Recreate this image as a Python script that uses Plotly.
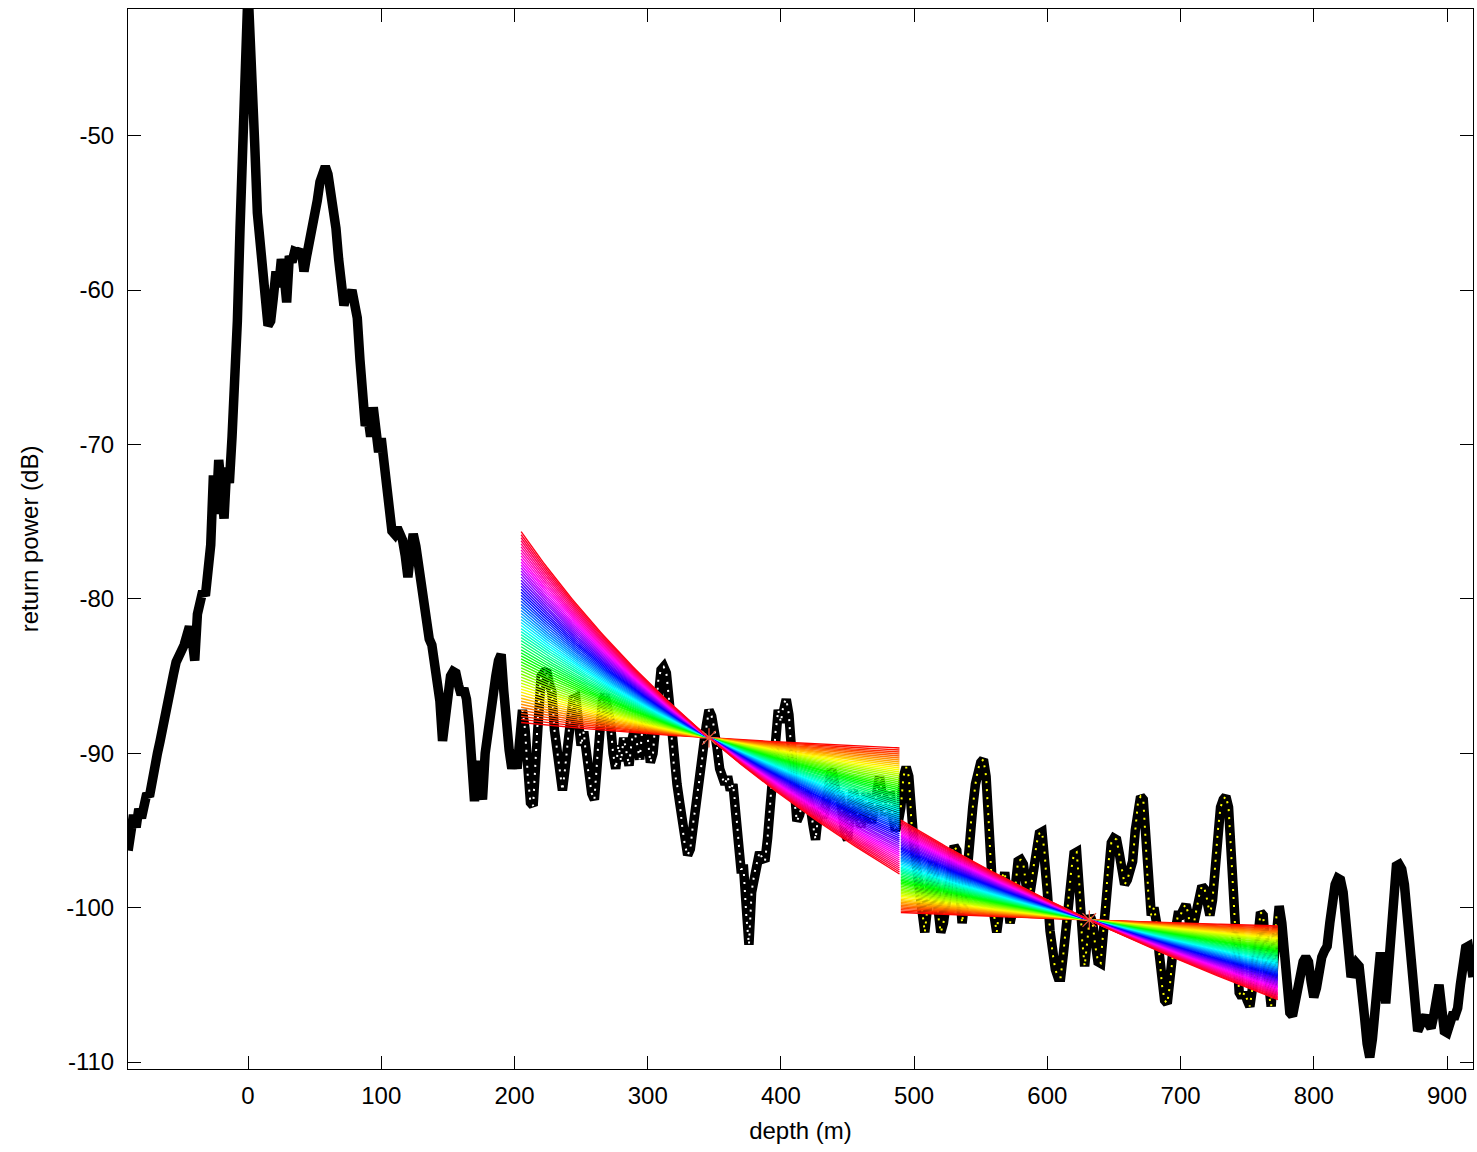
import colorsys
import numpy as np
import plotly.graph_objects as go

# ---------------- data ----------------
near_depth = [-90, -88, -86, -84, -82, -80, -78, -76, -74, -72, -70, -68, -66, -64, -62, -60, -58, -56, -54, -52,
              -50, -48, -46, -44, -42, -40, -38, -36, -34, -32, -30, -28, -26, -24, -22, -20, -18, -16, -14, -12,
              -10, -8, -6, -4, -2, 0, 2, 3, 5, 7, 9, 11, 13, 15, 17, 19, 21, 23, 25, 27, 29, 31, 33, 35, 38, 40,
              42, 44, 46, 48, 50, 52, 54, 56, 58, 60, 62, 64, 66, 68, 70, 72, 74, 76, 78, 80, 82, 84, 86, 88, 90,
              92, 94, 96, 98, 100, 102, 104, 106, 108, 110, 112, 114, 116, 118, 120, 122, 124, 126, 128, 130,
              132, 134, 136, 138, 140, 142, 144, 146, 148, 150, 152, 154, 156, 158, 160, 162, 164, 166, 168,
              170, 172, 174, 176, 178, 180, 182, 184, 186, 188, 190, 192, 194, 196, 198, 200, 202, 204]
near_power = [-96.3, -95.5, -94.0, -94.8, -93.6, -94.2, -93.0, -92.6, -92.8, -91.6, -90.8, -90.0, -89.2, -88.2,
              -87.6, -86.6, -85.8, -84.9, -84.1, -83.8, -83.4, -83.0, -82.4, -81.8, -82.6, -84.0, -81.0, -80.2,
              -79.5, -79.8, -78.6, -76.5, -72.0, -74.5, -71.0, -73.5, -74.8, -71.5, -72.5, -69.5, -66.5, -62.0,
              -56.0, -48.5, -42.5, -40.5, -44.5, -48.5, -50.5, -55.0, -57.5, -58.0, -60.5, -62.3, -62.0, -60.5,
              -58.8, -59.8, -58.0, -59.0, -60.8, -57.8, -58.2, -57.5, -57.6, -57.4, -58.8, -57.8, -57.0, -56.0,
              -55.2, -54.2, -53.0, -52.2, -52.0, -52.5, -53.5, -54.5, -56.0, -58.0, -60.0, -61.0, -60.2, -60.5,
              -60.0, -61.2, -61.8, -64.5, -67.5, -68.8, -68.2, -69.5, -67.6, -69.0, -70.5, -69.6, -71.0, -72.5,
              -74.8, -75.6, -75.8, -75.4, -75.8, -76.2, -77.2, -78.6, -77.0, -75.8, -76.6, -78.0, -79.5, -80.6,
              -81.5, -82.6, -83.0, -84.2, -84.8, -86.6, -89.2, -87.5, -86.2, -85.0, -84.7, -84.8, -85.6, -86.2,
              -85.8, -86.5, -88.2, -91.0, -93.1, -90.5, -91.5, -93.0, -90.0, -88.4, -87.8, -86.0, -85.0, -84.0,
              -83.6, -86.0, -88.5, -89.8, -91.0, -90.0, -91.0, -88.5]

segA_depth = [206, 208, 210, 212, 214, 216, 218, 220, 222, 224, 226, 228, 230, 232, 234, 236, 238, 240, 242, 244,
              246, 248, 250, 252, 254, 256, 258, 260, 262, 264, 266, 268, 270, 272, 274, 276, 278, 280, 282, 284,
              286, 288, 290, 292, 294, 296, 298, 300, 302, 304, 306, 308, 310, 312, 314, 316, 318, 320, 322, 324,
              326, 328, 330, 332, 334, 336, 338, 340, 342, 344, 346, 348, 350, 352, 354, 356, 358, 360, 362, 364,
              366, 368, 370, 372, 374, 376, 378, 380, 382, 384, 386, 388, 390, 392, 394, 396, 398, 400, 402, 404,
              406, 408, 410, 412, 414, 416, 418, 420, 422, 424, 426, 428, 430, 432, 434, 436, 438, 440, 442, 444,
              446, 448, 450, 452, 454, 456, 458, 460, 462, 464, 466, 468, 470, 472, 474, 476, 478, 480, 482, 484,
              486, 488]
segA_power = [-87.2, -88.5, -91.5, -93.2, -93.4, -90.5, -87.0, -85.0, -84.8, -84.6, -85.5, -86.0, -88.5, -89.8,
              -91.0, -92.4, -91.0, -89.2, -87.5, -86.5, -86.4, -87.8, -89.5, -88.6, -90.4, -91.5, -92.6, -93.0,
              -90.5, -88.0, -86.6, -86.2, -87.0, -88.0, -90.0, -91.0, -89.5, -90.5, -89.0, -89.8, -90.8, -89.2,
              -88.5, -89.4, -90.4, -88.4, -88.0, -89.0, -90.6, -90.0, -87.5, -85.2, -84.6, -84.4, -84.8, -86.5,
              -89.0, -91.2, -92.0, -93.2, -94.8, -96.0, -96.6, -96.2, -94.6, -93.5, -92.4, -91.0, -89.5, -88.2,
              -87.2, -87.6, -88.4, -89.6, -91.0, -91.6, -92.0, -91.5, -92.4, -92.0, -93.5, -95.5, -97.5, -97.5,
              -100.5, -102.4, -99.0, -97.8, -97.0, -96.4, -96.8, -97.0, -95.5, -93.0, -90.5, -88.6, -87.2, -88.0,
              -86.8, -86.5, -87.5, -90.0, -93.0, -94.4, -94.0, -93.2, -92.6, -92.8, -93.4, -94.6, -95.6, -94.0,
              -93.6, -94.2, -93.0, -91.5, -91.0, -91.8, -93.0, -92.5, -94.0, -95.2, -95.6, -94.0, -92.4, -93.0,
              -94.2, -94.8, -93.5, -92.6, -93.8, -94.5, -93.6, -92.4, -91.5, -92.8, -94.0, -93.5, -92.5, -94.2,
              -95.0, -94.5]

segB_depth = [490, 492, 494, 496, 498, 500, 502, 504, 506, 508, 510, 512, 514, 516, 518, 520, 522, 524, 526, 528,
              530, 532, 534, 536, 538, 540, 542, 544, 546, 548, 550, 552, 554, 556, 558, 560, 562, 564, 566, 568,
              570, 572, 574, 576, 578, 580, 582, 584, 586, 588, 590, 592, 594, 596, 598, 600, 602, 604, 606, 608,
              610, 612, 614, 616, 618, 620, 622, 624, 626, 628, 630, 632, 634, 636, 638, 640, 642, 644, 646, 648,
              650, 652, 654, 656, 658, 660, 662, 664, 666, 668, 670, 672, 674, 676, 678, 680, 682, 684, 686, 688,
              690, 692, 694, 696, 698, 700, 702, 704, 706, 708, 710, 712, 714, 716, 718, 720, 722, 724, 726, 728,
              730, 732, 734, 736, 738, 740, 742, 744, 746, 748, 750, 752, 754, 756, 758, 760, 762, 764, 766, 768,
              770, 772]
segB_power = [-93.5, -91.5, -90.9, -91.5, -94.5, -96.0, -97.5, -99.0, -100.5, -101.6, -100.0, -98.5, -97.0, -98.5,
              -100.5, -101.6, -101.0, -99.5, -98.0, -96.5, -96.0, -96.3, -98.5, -101.0, -99.5, -97.0, -95.0,
              -93.5, -92.0, -91.0, -90.6, -90.4, -91.5, -94.5, -98.0, -100.5, -101.6, -100.0, -98.0, -97.7,
              -99.5, -101.0, -100.2, -98.5, -97.0, -96.9, -97.2, -98.5, -99.6, -98.5, -97.0, -95.8, -95.2, -95.1,
              -96.5, -99.0, -101.5, -103.0, -104.0, -104.5, -104.5, -103.0, -101.0, -99.0, -97.5, -96.5, -96.4,
              -98.5, -102.0, -103.8, -102.0, -100.5, -101.0, -102.5, -103.5, -103.6, -101.5, -99.0, -97.0, -95.8,
              -95.5, -95.6, -96.5, -97.6, -98.5, -98.2, -97.5, -97.0, -95.0, -93.2, -92.8, -93.0, -96.0, -99.5,
              -100.5, -100.0, -101.0, -103.0, -105.0, -106.0, -106.2, -105.0, -103.0, -101.5, -100.5, -100.5,
              -100.0, -99.8, -100.5, -102.0, -101.0, -100.0, -99.2, -98.6, -98.8, -99.5, -100.5, -99.5, -97.0,
              -95.0, -93.5, -93.0, -92.8, -93.5, -96.5, -100.0, -103.0, -105.5, -105.8, -105.5, -106.0, -106.4,
              -105.2, -104.0, -102.0, -100.3, -100.5, -103.0, -105.5, -106.4, -103.5, -100.5]

far_depth = [774, 776, 778, 780, 782, 784, 786, 788, 790, 792, 794, 796, 798, 800, 802, 804, 806, 808, 810, 812,
             814, 816, 818, 820, 822, 824, 826, 828, 830, 832, 834, 836, 838, 840, 842, 844, 846, 848, 850, 852,
             854, 856, 858, 860, 862, 864, 866, 868, 870, 872, 874, 876, 878, 880, 882, 884, 886, 888, 890, 892,
             894, 896, 898, 900, 902, 904, 906, 908, 910, 912, 914, 916, 918, 919.5]
far_power = [-99.9, -101.0, -103.0, -105.0, -106.8, -107.0, -106.0, -104.8, -104.0, -103.5, -103.2, -103.5, -104.8,
             -105.8, -105.2, -104.0, -103.2, -102.8, -102.5, -101.0, -99.5, -98.5, -98.1, -98.2, -99.0, -101.0,
             -103.5, -104.5, -104.0, -103.6, -103.8, -105.0, -107.0, -108.8, -109.7, -108.5, -106.0, -104.0,
             -102.9, -104.0, -106.2, -104.0, -101.0, -98.5, -97.3, -97.2, -97.5, -98.5, -100.5, -103.0, -105.5,
             -107.5, -108.0, -107.6, -107.2, -107.0, -107.5, -107.8, -107.0, -106.0, -105.0, -106.5, -108.0,
             -108.1, -107.5, -107.0, -107.0, -106.5, -105.0, -103.5, -102.6, -102.5, -103.5, -104.5]

# fitted fan families: power = pivot_power - slope * ln(depth / pivot_depth)
fan_starts = [205, 490]
fan_ends = [489, 773]
fan_pivot_depths = [346, 631.5]
fan_pivot_powers = [-89.0, -100.8]
fan_slope_min = 1.9
fan_slope_max = 25.5
fan_line_count = 64

x_ticks = [0, 100, 200, 300, 400, 500, 600, 700, 800, 900]
y_ticks = [-110, -100, -90, -80, -70, -60, -50]

# ---------------- figure ----------------
fig = go.Figure()

all_depth = near_depth + segA_depth + segB_depth + far_depth
all_power = near_power + segA_power + segB_power + far_power

fig.add_trace(go.Scatter(x=all_depth, y=all_power, mode="lines",
                         line=dict(color="black", width=9.5), showlegend=False, hoverinfo="skip"))
fig.add_trace(go.Scatter(x=segA_depth, y=segA_power, mode="lines",
                         line=dict(color="white", width=2, dash="2px,6px"), showlegend=False, hoverinfo="skip"))
fig.add_trace(go.Scatter(x=segB_depth, y=segB_power, mode="lines",
                         line=dict(color="yellow", width=2, dash="2px,6px"), showlegend=False, hoverinfo="skip"))

for z0, z1, zp, vp in zip(fan_starts, fan_ends, fan_pivot_depths, fan_pivot_powers):
    z = np.linspace(z0, z1, 120)
    for k in range(fan_line_count):
        s = fan_slope_min + (fan_slope_max - fan_slope_min) * k / (fan_line_count - 1)
        r, g, b = colorsys.hsv_to_rgb(k / fan_line_count, 1, 1)
        col = f"rgb({int(r*255)},{int(g*255)},{int(b*255)})"
        fig.add_trace(go.Scatter(x=z, y=vp - s * np.log(z / zp), mode="lines",
                                 line=dict(color=col, width=1.4), showlegend=False, hoverinfo="skip"))

fig.add_trace(go.Scatter(x=fan_pivot_depths, y=fan_pivot_powers, mode="markers",
                         marker=dict(symbol="asterisk-open", size=16, line=dict(color="rgb(0,210,0)", width=1.2)),
                         showlegend=False, hoverinfo="skip"))

axis_font = dict(family="Liberation Sans, Arial, sans-serif", size=24, color="black")
common = dict(showgrid=False, zeroline=False, showline=True, linecolor="black", linewidth=1,
              mirror="allticks", ticks="inside", ticklen=13, tickcolor="black", tickwidth=1,
              tickfont=axis_font)

fig.update_layout(
    width=1477, height=1152,
    margin=dict(l=128, r=4, t=9, b=83),
    paper_bgcolor="white", plot_bgcolor="white",
    font=axis_font,
    xaxis=dict(range=[-90.1, 919.5], tickvals=x_ticks, ticktext=[str(v) for v in x_ticks],
               title=dict(text="depth (m)", font=axis_font, standoff=14), ticklabelstandoff=5, **common),
    yaxis=dict(range=[-110.45, -41.8], tickvals=y_ticks, ticktext=[str(v) for v in y_ticks],
               title=dict(text="return power (dB)", font=axis_font, standoff=20), ticklabelstandoff=8, **common),
)

fig.write_html("out.html")
